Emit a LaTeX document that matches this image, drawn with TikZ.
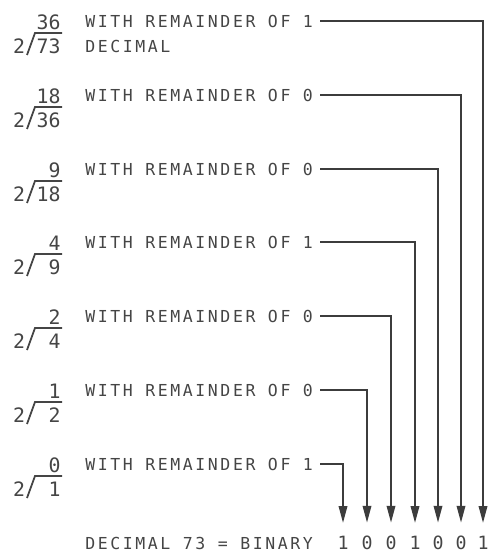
\documentclass[tikz,border=0pt]{standalone}
\usepackage{fontspec}
\usetikzlibrary{arrows.meta}
\newfontfamily\remfont[LetterSpace=15.6]{DejaVu Sans Mono}
\newfontfamily\numfont{DejaVu Sans Mono}
\definecolor{inkgray}{HTML}{454545}
\definecolor{wiregray}{HTML}{3C3C3C}
\tikzset{
  remtext/.style = {anchor = west, inner sep = 0pt, inner xsep = 0.14cm,
                    font = \remfont\fontsize{9.4}{11}\selectfont, text = inkgray},
  divnum/.style  = {inner sep = 0pt, font = \numfont\fontsize{11.3}{13}\selectfont, text = inkgray},
  bitnum/.style  = {inner sep = 0pt, font = \numfont\fontsize{10.4}{12}\selectfont, text = inkgray},
  divbar/.style  = {draw = inkgray, line width = 1pt},
  bitline/.style = {draw = wiregray, line width = 1.1pt, shorten > = 0.26cm,
                    -{Triangle[length = 0.34cm, width = 0.17cm]}}
}
\begin{document}
\begin{tikzpicture}[x = 0.02cm, y = -0.02cm]
        \useasboundingbox (0,0) rectangle (489,553);
        \node[divnum, anchor = east] (q1)   at (61, 22)  {36};
        \node[divnum]                (two1) at (19, 46)  {2};
        \node[divnum, anchor = east] (d1)   at (61, 46)  {73};
        \node[divnum, anchor = east] (q2)   at (61, 96)  {18};
        \node[divnum]                (two2) at (19, 120) {2};
        \node[divnum, anchor = east] (d2)   at (61, 120) {36};
        \node[divnum, anchor = east] (q3)   at (61, 170) {9};
        \node[divnum]                (two3) at (19, 194) {2};
        \node[divnum, anchor = east] (d3)   at (61, 194) {18};
        \node[divnum, anchor = east] (q4)   at (61, 243) {4};
        \node[divnum]                (two4) at (19, 267) {2};
        \node[divnum, anchor = east] (d4)   at (61, 267) {9};
        \node[divnum, anchor = east] (q5)   at (61, 317) {2};
        \node[divnum]                (two5) at (19, 341) {2};
        \node[divnum, anchor = east] (d5)   at (61, 341) {4};
        \node[divnum, anchor = east] (q6)   at (61, 391) {1};
        \node[divnum]                (two6) at (19, 415) {2};
        \node[divnum, anchor = east] (d6)   at (61, 415) {2};
        \node[divnum, anchor = east] (q7)   at (61, 465) {0};
        \node[divnum]                (two7) at (19, 489) {2};
        \node[divnum, anchor = east] (d7)   at (61, 489) {1};
        \draw[divbar] (27, 55)  -- (35, 33)  -- (62, 33);
        \draw[divbar] (27, 129) -- (35, 107) -- (62, 107);
        \draw[divbar] (27, 203) -- (35, 181) -- (62, 181);
        \draw[divbar] (27, 276) -- (35, 254) -- (62, 254);
        \draw[divbar] (27, 350) -- (35, 328) -- (62, 328);
        \draw[divbar] (27, 424) -- (35, 402) -- (62, 402);
        \draw[divbar] (27, 498) -- (35, 476) -- (62, 476);
        \node[remtext] (r1)  at (78, 21)  {WITH REMAINDER OF 1};
        \node[remtext] (dec) at (78, 46)  {DECIMAL};
        \node[remtext] (r2)  at (78, 95)  {WITH REMAINDER OF 0};
        \node[remtext] (r3)  at (78, 169) {WITH REMAINDER OF 0};
        \node[remtext] (r4)  at (78, 242) {WITH REMAINDER OF 1};
        \node[remtext] (r5)  at (78, 316) {WITH REMAINDER OF 0};
        \node[remtext] (r6)  at (78, 390) {WITH REMAINDER OF 0};
        \node[remtext] (r7)  at (78, 464) {WITH REMAINDER OF 1};
        \node[remtext] (result) at (78, 543) {DECIMAL 73 = BINARY};
        \node[bitnum] (b7) at (343, 543) {1};
        \node[bitnum] (b6) at (367, 543) {0};
        \node[bitnum] (b5) at (391, 543) {0};
        \node[bitnum] (b4) at (415, 543) {1};
        \node[bitnum] (b3) at (438, 543) {0};
        \node[bitnum] (b2) at (461, 543) {0};
        \node[bitnum] (b1) at (483, 543) {1};
        \draw[bitline] (r1.east) -| (b1);
        \draw[bitline] (r2.east) -| (b2);
        \draw[bitline] (r3.east) -| (b3);
        \draw[bitline] (r4.east) -| (b4);
        \draw[bitline] (r5.east) -| (b5);
        \draw[bitline] (r6.east) -| (b6);
        \draw[bitline] (r7.east) -| (b7);
\end{tikzpicture}
\end{document}
